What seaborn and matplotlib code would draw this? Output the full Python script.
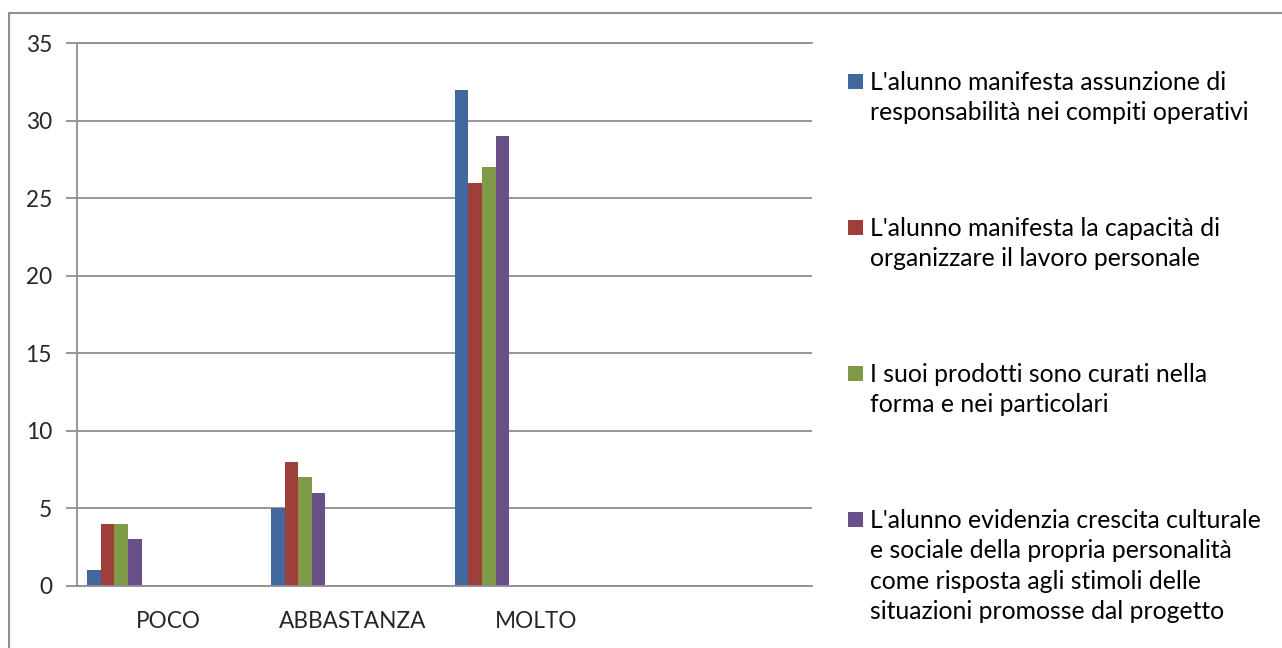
import matplotlib
matplotlib.use("Agg")
import matplotlib.pyplot as plt
from matplotlib.patches import Rectangle
from matplotlib.lines import Line2D
import pandas as pd
import seaborn as sns

# data
categorie = ["POCO", "ABBASTANZA", "MOLTO", ""]
serie = [
    "L'alunno manifesta assunzione di\nresponsabilità nei compiti operativi",
    "L'alunno manifesta la capacità di\norganizzare il lavoro personale",
    "I suoi prodotti sono curati nella\nforma e nei particolari",
    "L'alunno evidenzia crescita culturale\ne sociale della propria personalità\ncome risposta agli stimoli delle\nsituazioni promosse dal progetto",
]
valori = [
    [1, 5, 32],
    [4, 8, 26],
    [4, 7, 27],
    [3, 6, 29],
]
colori = ["#41699e", "#9e3f3c", "#7e9a47", "#6a5088"]

# the excel sheet had room for 12 series, only 4 filled
vuote = [f"_vuota{i}" for i in range(8)]

rows = []
for s, vals in zip(serie, valori):
    for c, v in zip(categorie[:3], vals):
        rows.append({"categoria": c, "serie": s, "valore": v})
df = pd.DataFrame(rows)

sns.set_style("white")
plt.rcParams["font.family"] = ["Lato", "DejaVu Sans"]
grigio = "#8f8f8f"

fig = plt.figure(figsize=(12.82, 6.48), dpi=100)
ax = fig.add_axes([77 / 1282, 1 - 586 / 648, (812 - 77) / 1282, (586 - 43) / 648])

sns.barplot(data=df, x="categoria", y="valore", hue="serie",
            order=categorie, hue_order=serie + vuote,
            palette=colori + ["white"] * len(vuote),
            width=12 / 13.5, linewidth=0, saturation=1,
            legend=False, ax=ax)

ax.set_xlim(-0.5, len(categorie) - 0.5)
ax.set_ylim(0, 35)
ax.set_yticks(range(0, 36, 5))
ax.set_xlabel(None)
ax.set_ylabel(None)

ax.yaxis.grid(True, color=grigio, linewidth=1.3)
ax.set_axisbelow(True)
for side in ["left", "bottom", "top"]:
    ax.spines[side].set_color(grigio)
    ax.spines[side].set_linewidth(1.3)
ax.spines["right"].set_visible(False)

ax.set_xticks([i - 0.5 for i in range(len(categorie) + 1)], minor=True)
ax.tick_params(axis="x", which="major", length=0, pad=18, labelsize=16.3)
ax.tick_params(axis="x", which="minor", length=7, width=1.3, color=grigio, direction="out")
ax.tick_params(axis="y", length=8, width=1.3, color=grigio, pad=10, labelsize=16.3, left=True)

# legend, excel style
y0 = 82
passo = 146
for i, (s, col) in enumerate(zip(serie, colori)):
    yc = y0 + i * passo
    fig.patches.append(Rectangle((848 / 1282, 1 - (yc + 7) / 648), 15 / 1282, 15 / 648,
                                 transform=fig.transFigure, facecolor=col, edgecolor="none"))
    fig.text(870 / 1282, 1 - (yc - 11) / 648, s, ha="left", va="top",
             fontsize=17.8, linespacing=1.39, color="black")

# outer frame
fig.lines.append(Line2D([8.5 / 1282, 8.5 / 1282], [0, 1 - 13 / 648], transform=fig.transFigure,
                        color=grigio, linewidth=1.5))
fig.lines.append(Line2D([8.5 / 1282, 1], [1 - 13 / 648, 1 - 13 / 648], transform=fig.transFigure,
                        color=grigio, linewidth=1.5))

fig.savefig("out.png", dpi=100)
